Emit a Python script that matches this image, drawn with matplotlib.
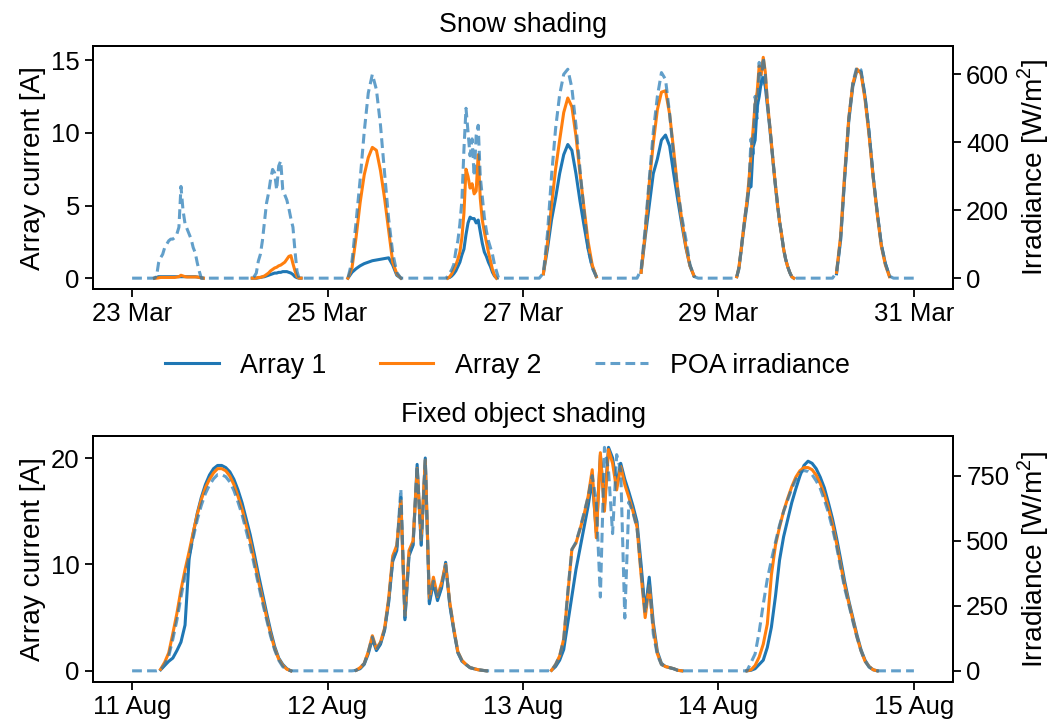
import numpy as np
import matplotlib
matplotlib.use('Agg')
import matplotlib.pyplot as plt
import matplotlib.dates as mdates

plt.rcParams['font.family'] = ['Liberation Sans', 'DejaVu Sans']
plt.rcParams['font.size'] = 19.3
plt.rcParams['xtick.labelsize'] = 18.5
plt.rcParams['ytick.labelsize'] = 18.5

nan = np.nan

# ---------------- snow shading (23-31 Mar), samples from 4:00 to 19:00 ----------------
snow_days = ['2021-03-23', '2021-03-24', '2021-03-25', '2021-03-26',
             '2021-03-27', '2021-03-28', '2021-03-29', '2021-03-30']
snow_ticks = ['2021-03-23', '2021-03-25', '2021-03-27', '2021-03-29', '2021-03-31']
snow_hours = (4, 19)

snow_a1 = [
    [nan, nan, nan, 0, 0.05, 0.1, 0.1, 0.1, 0.1, 0.1, 0.1, 0.1, 0.1, 0.1, 0.1, 0.1,
     0.1, 0.1, 0.1, 0.1, 0.1, 0.1, 0.1, 0.1, 0.08, 0.05, 0.02, 0, nan, nan, nan],
    [nan, nan, nan, 0, 0, 0, 0.02, 0.05, 0.08, 0.1, 0.15, 0.2, 0.25, 0.3, 0.35, 0.35,
     0.4, 0.4, 0.45, 0.45, 0.45, 0.4, 0.35, 0.25, 0.1, 0.03, 0, 0, nan, nan, nan],
    [nan, 0, 0.4, 0.65, 0.85, 1.0, 1.1, 1.2, 1.25, 1.3, 1.35, 1.4, 0.9, 0.2, 0, nan],
    [nan, nan, nan, 0, 0.05, 0.15, 0.3, 0.5, 0.8, 1.1, 1.6, 2.0, 3.0, 3.8, 4.2, 4.1,
     4.1, 3.8, 4.0, 3.2, 2.4, 1.8, 1.5, 1.1, 0.8, 0.4, 0.15, 0, nan, nan, nan],
    [nan, 0.3, 2.0, 4.0, 5.5, 7.2, 8.5, 9.2, 8.8, 7.2, 5.3, 3.6, 2.0, 0.8, 0.1, nan],
    [nan, 0.4, 2.8, 5.0, 7.2, 8.2, 9.5, 9.85, 9.1, 7.2, 5.4, 3.7, 2.1, 0.85, 0.15, nan],
    [nan, 0.1, 0.6, 1.7, 2.9, 4.0, 5.0, 6.2, 6.3, 9.0, 9.5, 11.8, 12.5, 13.5, 13.8, 13.2,
     11.9, 10.6, 9.2, 7.7, 6.3, 5.0, 3.9, 3.0, 2.0, 1.3, 0.8, 0.4, 0.1, 0, nan],
    [nan, 0.3, 2.6, 6.9, 10.8, 13.2, 14.3, 14.2, 12.5, 10.0, 7.0, 4.5, 2.3, 1.0, 0.15, nan],
]
snow_a2 = [
    [nan, nan, nan, 0, 0, 0.02, 0.05, 0.05, 0.05, 0.05, 0.05, 0.05, 0.05, 0.05, 0.08, 0.1,
     0.2, 0.15, 0.1, 0.08, 0.08, 0.08, 0.08, 0.08, 0.08, 0.05, 0.02, 0, nan, nan, nan],
    [nan, nan, nan, 0, 0, 0, 0.05, 0.05, 0.1, 0.15, 0.25, 0.35, 0.5, 0.6, 0.7, 0.75,
     0.85, 0.9, 1.0, 1.1, 1.3, 1.5, 1.55, 1.0, 0.5, 0.1, 0, 0, nan, nan, nan],
    [nan, 0, 0.7, 2.8, 5.2, 7.1, 8.3, 9.0, 8.8, 7.4, 5.5, 3.3, 1.1, 0.3, 0, nan],
    [nan, nan, nan, 0, 0.1, 0.3, 0.6, 0.9, 1.3, 1.8, 2.8, 4.5, 7.5, 7.0, 6.2, 6.5,
     5.8, 6.0, 8.5, 5.5, 4.0, 3.2, 2.5, 1.8, 1.2, 0.6, 0.2, 0, nan, nan, nan],
    [nan, 0.3, 2.4, 5.0, 7.5, 9.5, 11.4, 12.4, 11.8, 9.8, 7.2, 4.8, 2.5, 0.9, 0.1, nan],
    [nan, 0.4, 3.1, 6.5, 9.3, 11.6, 12.8, 12.9, 11.3, 8.8, 6.1, 4.0, 2.2, 0.85, 0.15, nan],
    [nan, 0.1, 0.7, 1.8, 3.0, 4.2, 5.3, 6.8, 8.5, 10.2, 12.0, 12.8, 14.6, 14.0, 15.2, 14.2,
     12.2, 10.8, 9.3, 7.8, 6.4, 5.1, 3.9, 3.0, 2.0, 1.3, 0.8, 0.4, 0.1, 0, nan],
    [nan, 0.4, 2.9, 7.2, 11.0, 13.4, 14.4, 14.1, 12.3, 9.8, 6.9, 4.4, 2.2, 0.9, 0.1, nan],
]
snow_poa = [
    [0, 0, 0, 0, 5, 45, 60, 70, 90, 100, 110, 115, 115, 120, 130, 150,
     270, 200, 160, 145, 130, 115, 90, 75, 45, 20, 0, 0, 0, 0, 0],
    [0, 0, 0, 0, 5, 15, 50, 70, 110, 165, 220, 250, 290, 320, 310, 260,
     330, 345, 260, 245, 230, 205, 175, 150, 80, 20, 0, 0, 0, 0, 0],
    [0, 0, 50, 165, 290, 430, 545, 600, 555, 450, 310, 175, 75, 17, 0, 0],
    [0, 0, 0, 5, 15, 25, 40, 80, 110, 160, 230, 380, 500, 430, 360, 410,
     300, 420, 450, 300, 240, 180, 140, 110, 90, 70, 40, 20, 0, 0, 0],
    [0, 15, 130, 300, 440, 540, 600, 615, 560, 450, 320, 195, 85, 30, 5, 0],
    [0, 25, 145, 290, 430, 535, 605, 585, 485, 360, 260, 180, 115, 40, 5, 0],
    [0, 4, 30, 77, 130, 180, 227, 279, 410, 365, 535, 470, 635, 565, 650, 600,
     523, 463, 400, 335, 275, 220, 167, 129, 86, 56, 34, 17, 4, 0, 0],
    [0, 17, 116, 300, 468, 575, 622, 613, 536, 429, 300, 193, 99, 43, 6, 0],
]

# ---------------- fixed object shading (11-15 Aug), half-hourly 3:00 to 20:00 ----------------
fixed_days = ['2021-08-11', '2021-08-12', '2021-08-13', '2021-08-14']
fixed_ticks = ['2021-08-11', '2021-08-12', '2021-08-13', '2021-08-14', '2021-08-15']
fixed_hours = (3, 20)

fixed_a1 = [
    [nan, 0.1, 0.5, 0.9, 1.2, 1.9, 2.7, 4.3, 10.5, 12.9, 14.8, 16.3, 17.5, 18.4, 19.0, 19.3, 19.3,
     19.1, 18.7, 18.0, 17.0, 15.8, 14.3, 12.8, 11.0, 9.1, 7.3, 5.5, 3.8, 2.3, 1.2, 0.6, 0.2, 0, nan],
    [nan, 0.05, 0.2, 0.6, 1.6, 3.0, 1.9, 2.5, 3.8, 6.4, 10.3, 11.3, 16.3, 4.8, 10.8, 11.8, 19.4,
     11.8, 20.0, 6.3, 8.3, 6.6, 7.8, 10.2, 6.2, 3.8, 1.7, 0.9, 0.6, 0.3, 0.2, 0.1, 0.05, 0, nan],
    [nan, 0.05, 0.4, 1.0, 2.0, 4.5, 7.0, 9.5, 11.5, 13.5, 15.5, 18.0, 13.0, 20.3, 15.5, 21.0, 20.0,
     17.5, 19.5, 18.0, 16.8, 15.5, 14.0, 10.0, 5.5, 8.8, 4.5, 1.8, 0.7, 0.4, 0.3, 0.2, 0.05, 0, nan],
    [nan, 0, 0.05, 0.2, 0.6, 1.0, 2.2, 4.1, 7.0, 10.4, 12.6, 14.2, 15.8, 17.1, 18.3, 19.3, 19.7,
     19.5, 19.0, 18.2, 17.2, 15.8, 14.3, 12.5, 10.5, 8.4, 6.6, 5.0, 3.4, 2.0, 1.0, 0.4, 0.1, 0, nan],
]
fixed_a2 = [
    [nan, 0.15, 0.8, 1.7, 3.5, 5.4, 7.6, 9.5, 11.2, 13.0, 14.7, 16.1, 17.2, 18.0, 18.6, 19.0, 19.0,
     18.8, 18.3, 17.5, 16.4, 15.2, 13.7, 12.2, 10.4, 8.5, 6.8, 5.1, 3.5, 2.1, 1.1, 0.5, 0.15, 0, nan],
    [nan, 0.05, 0.3, 0.7, 1.8, 3.3, 2.1, 2.7, 4.0, 6.8, 10.8, 11.8, 16.0, 5.2, 11.3, 12.2, 19.0,
     12.3, 19.8, 6.8, 8.8, 7.0, 8.3, 10.0, 6.5, 4.0, 1.8, 1.0, 0.6, 0.3, 0.2, 0.1, 0.05, 0, nan],
    [nan, 0.05, 0.6, 1.4, 3.0, 7.2, 11.4, 12.0, 13.3, 14.7, 16.4, 18.9, 12.5, 20.5, 15.0, 20.8, 19.5,
     17.0, 19.2, 17.5, 16.3, 15.0, 13.5, 9.0, 5.0, 8.0, 4.0, 1.6, 0.6, 0.4, 0.3, 0.2, 0.05, 0, nan],
    [nan, 0, 0.1, 0.5, 1.3, 2.5, 4.4, 9.0, 11.8, 13.5, 15.0, 16.2, 17.3, 18.2, 18.8, 19.1, 19.1,
     18.9, 18.4, 17.6, 16.6, 15.3, 13.8, 12.0, 10.0, 8.0, 6.4, 4.8, 3.2, 1.9, 0.9, 0.4, 0.1, 0, nan],
]
fixed_poa = [
    [0, 4, 24, 57, 122, 195, 284, 365, 438, 512, 581, 637, 682, 715, 739, 755, 755,
     747, 727, 694, 650, 601, 540, 479, 406, 333, 264, 199, 134, 81, 41, 16, 4, 0, 0],
    [0, 2, 12, 28, 73, 130, 81, 106, 158, 268, 426, 467, 700, 203, 447, 487, 788,
     487, 812, 264, 345, 276, 325, 406, 260, 160, 72, 40, 24, 12, 8, 4, 2, 0, 0],
    [0, 2, 24, 57, 122, 305, 467, 495, 548, 609, 670, 751, 650, 284, 860, 771, 528,
     832, 771, 203, 650, 609, 548, 386, 223, 345, 142, 61, 24, 16, 12, 8, 2, 0, 0],
    [0, 0, 32, 65, 150, 256, 353, 426, 495, 560, 613, 658, 702, 735, 763, 771, 767,
     755, 731, 702, 658, 609, 548, 479, 398, 317, 256, 191, 130, 77, 37, 14, 4, 0, 0],
]


def build(days, per_day, hours, night=None):
    t, v = [], []
    for d, vals in zip(days, per_day):
        start = np.datetime64(d, 'm')
        hrs = np.linspace(hours[0], hours[1], len(vals))
        stamps = start + np.round(hrs * 60).astype(int).astype('timedelta64[m]')
        if night is None:
            t.extend(stamps)
            v.extend(vals)
            t.append(stamps[-1])
            v.append(nan)
        else:
            # irradiance is zero through the night
            t.append(start)
            v.append(night)
            t.extend(stamps)
            v.extend(vals)
            t.append(start + np.timedelta64(24, 'h'))
            v.append(night)
    return np.array(t), np.array(v, dtype=float)


def panel(ax, days, hours, a1, a2, poa, ticks, title, lticks, rticks):
    t, y1 = build(days, a1, hours)
    _, y2 = build(days, a2, hours)
    tp, yp = build(days, poa, hours, night=0.0)
    l1, = ax.plot(t, y1, color='#1f77b4', lw=2.2, label='Array 1')
    l2, = ax.plot(t, y2, color='#ff7f0e', lw=2.2, label='Array 2')
    ax2 = ax.twinx()
    l3, = ax2.plot(tp, yp, color='#1f77b4', alpha=0.7, ls='--', lw=2.2,
                   dashes=(3.2, 1.7), label='POA irradiance')
    ax.set_xticks(np.array(ticks, dtype='datetime64[D]'))
    ax.xaxis.set_major_formatter(mdates.DateFormatter('%d %b'))
    ax.set_yticks(lticks)
    ax2.set_yticks(rticks)
    ax.set_ylabel('Array current [A]', fontsize=20.2)
    ax2.set_ylabel(r'Irradiance [W/m$^\mathregular{2}$]', fontsize=20.2)
    ax.set_title(title, fontsize=19.3, pad=10.5)
    for a in (ax, ax2):
        a.tick_params(length=6, width=1.3)
        for s in a.spines.values():
            s.set_linewidth(1.4)
    return [l1, l2, l3]


fig = plt.figure(figsize=(10.57, 7.23), dpi=100)
ax_top = fig.add_axes([0.088, 0.600, 0.8136, 0.336])
ax_bot = fig.add_axes([0.088, 0.0567, 0.8136, 0.340])

handles = panel(ax_top, snow_days, snow_hours, snow_a1, snow_a2, snow_poa,
                snow_ticks, 'Snow shading', [0, 5, 10, 15], [0, 200, 400, 600])
panel(ax_bot, fixed_days, fixed_hours, fixed_a1, fixed_a2, fixed_poa,
      fixed_ticks, 'Fixed object shading', [0, 10, 20], [0, 250, 500, 750])

fig.legend(handles, [h.get_label() for h in handles], loc='center',
           bbox_to_anchor=(0.48, 0.494), ncol=3, frameon=False)

fig.savefig('out.png', dpi=100)
